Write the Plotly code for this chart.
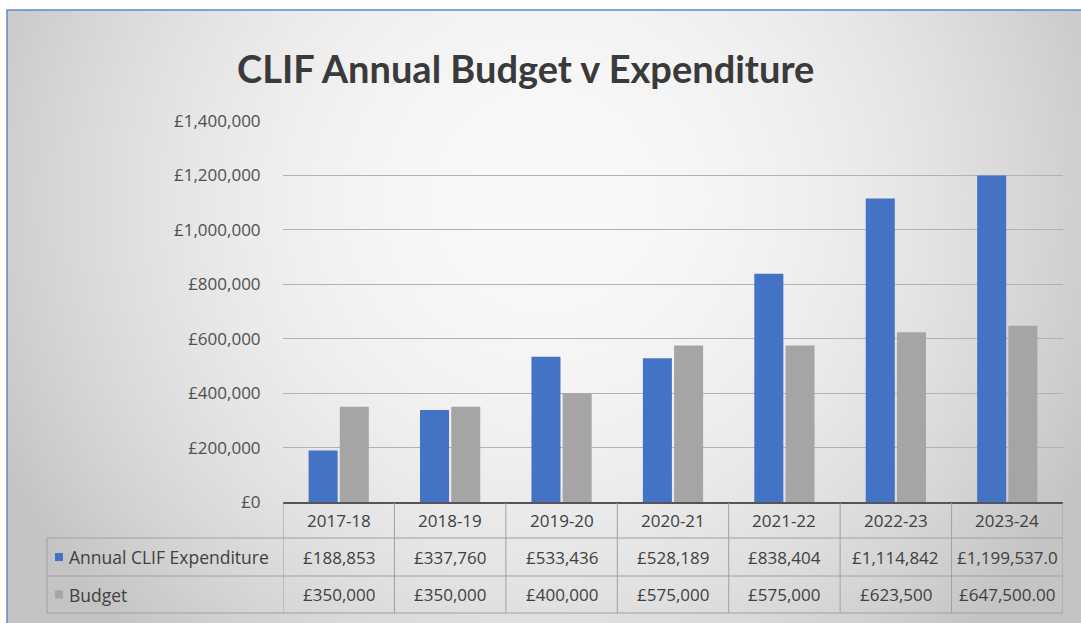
import base64, struct, zlib
import plotly.graph_objects as go

# ---------------- data ----------------
categories = ["2017-18", "2018-19", "2019-20", "2020-21", "2021-22", "2022-23", "2023-24"]
expenditure = [188853, 337760, 533436, 528189, 838404, 1114842, 1199537]
budget = [350000, 350000, 400000, 575000, 575000, 623500, 647500]
expenditure_labels = ["£188,853", "£337,760", "£533,436", "£528,189", "£838,404", "£1,114,842", "£1,199,537.0"]
budget_labels = ["£350,000", "£350,000", "£400,000", "£575,000", "£575,000", "£623,500", "£647,500.00"]
series_names = ["Annual CLIF Expenditure", "Budget"]
y_ticks = [0, 200000, 400000, 600000, 800000, 1000000, 1200000, 1400000]
y_tick_labels = ["£{:,}".format(v) for v in y_ticks]
title = "CLIF Annual Budget v Expenditure"

# ---------------- layout constants (pixels) ----------------
W, H = 1081, 623
PL, PR, PT, PB = 283, 1063, 121, 502  # plot area
BLUE, GREY = "#4472C4", "#A5A5A5"
TXT = "#404040"
FONT = "Open Sans"


def px(xp):
    return (xp - PL) / (PR - PL)


def py(yp):
    return (PB - yp) / (PB - PT)


def png_uri(w, h, f):
    raw = b"".join(b"\x00" + bytes(f(x, y) for x in range(w)) for y in range(h))

    def chunk(t, d):
        return struct.pack(">I", len(d)) + t + d + struct.pack(">I", zlib.crc32(t + d) & 0xFFFFFFFF)

    png = (b"\x89PNG\r\n\x1a\n" + chunk(b"IHDR", struct.pack(">IIBBBBB", w, h, 8, 0, 0, 0, 0))
           + chunk(b"IDAT", zlib.compress(raw, 9)) + chunk(b"IEND", b""))
    return "data:image/png;base64," + base64.b64encode(png).decode()


# radial background of the chart frame
FX0, FY0, FX1, FY1 = 7, 10, 1081, 623
GW, GH = 269, 153


def shade(gx, gy):
    x = FX0 + (gx + 0.5) / GW * (FX1 - FX0)
    y = FY0 + (gy + 0.5) / GH * (FY1 - FY0)
    r2 = ((x - 545) / 620) ** 2 + ((y - 200) / 620) ** 2
    v = 249 - 55 * r2
    return int(max(196, min(250, v)))


bg = png_uri(GW, GH, shade)

fig = go.Figure()
fig.add_trace(go.Bar(x=categories, y=expenditure, name=series_names[0], marker_color=BLUE,
                     marker_line_width=0))
fig.add_trace(go.Bar(x=categories, y=budget, name=series_names[1], marker_color=GREY,
                     marker_line_width=0))

shapes = []
annotations = []

# frame (top and left edges visible)
shapes.append(dict(type="path", xref="paper", yref="paper",
                   path="M {},{} L {},{} L {},{}".format(px(FX0), py(FY1 + 10), px(FX0), py(FY0),
                                                          px(FX1 + 10), py(FY0)),
                   line=dict(color="#5B8BD0", width=1.5), layer="below"))

# data table
n = len(categories)
ROW_Y = [503, 538, 576, 613]
LINE = dict(color="#A0A0A0", width=1)
for i in range(n + 1):
    shapes.append(dict(type="line", xref="x", yref="paper", x0=i - 0.5, x1=i - 0.5,
                       y0=py(ROW_Y[0]), y1=py(ROW_Y[3]), line=LINE))
shapes.append(dict(type="line", xref="paper", yref="paper", x0=px(47), x1=px(47),
                   y0=py(ROW_Y[1]), y1=py(ROW_Y[3]), line=LINE))
for yy in ROW_Y[1:]:
    shapes.append(dict(type="line", xref="paper", yref="paper", x0=px(47), x1=px(PR),
                       y0=py(yy), y1=py(yy), line=LINE))

TFONT = dict(family=FONT, size=17, color=TXT)
for i, c in enumerate(categories):
    for r, txt in enumerate([c, expenditure_labels[i], budget_labels[i]]):
        annotations.append(dict(x=c, xref="x", y=py((ROW_Y[r] + ROW_Y[r + 1]) / 2), yref="paper",
                                text=txt, showarrow=False, xanchor="center", yanchor="middle",
                                font=TFONT))

for k, (name, col) in enumerate(zip(series_names, [BLUE, GREY])):
    yc = (ROW_Y[k + 1] + ROW_Y[k + 2]) / 2
    shapes.append(dict(type="rect", xref="paper", yref="paper", x0=px(55), x1=px(63),
                       y0=py(yc + 4), y1=py(yc - 4), fillcolor=col, line_width=0))
    annotations.append(dict(x=px(67), xref="paper", y=py(yc), yref="paper", text=name,
                            xanchor="left", yanchor="middle", showarrow=False,
                            font=dict(family=FONT, size=17.5, color=TXT)))

# title
annotations.append(dict(x=px(525), xref="paper", y=py(68), yref="paper", text="<b>" + title + "</b>",
                        showarrow=False, xanchor="center", yanchor="middle",
                        font=dict(family="Lato", size=38, color="#3A3A3A")))

fig.update_layout(
    width=W, height=H,
    margin=dict(l=PL, r=W - PR, t=PT, b=H - PB, pad=0),
    paper_bgcolor="white",
    plot_bgcolor="rgba(0,0,0,0)",
    showlegend=False,
    barmode="group",
    bargap=0.44,
    bargroupgap=0.07,
    shapes=shapes,
    annotations=annotations,
    images=[dict(source=bg, xref="paper", yref="paper", x=px(FX0), y=py(FY0),
                 sizex=px(FX1) - px(FX0), sizey=py(FY0) - py(FY1), xanchor="left", yanchor="top",
                 sizing="stretch", layer="below")],
    xaxis=dict(type="category", range=[-0.5, n - 0.5], showticklabels=False, ticks="",
               showgrid=False, zeroline=False, showline=True, linecolor="#555555", linewidth=2),
    yaxis=dict(range=[0, 1400000], tickvals=y_ticks, ticktext=y_tick_labels,
               showgrid=True, gridcolor="#B2B2B2", gridwidth=1, zeroline=False,
               ticks="outside", ticklen=18, tickcolor="rgba(0,0,0,0)",
               tickfont=dict(family=FONT, size=17, color="#4F4F4F")),
)

fig.write_html("out.html")
